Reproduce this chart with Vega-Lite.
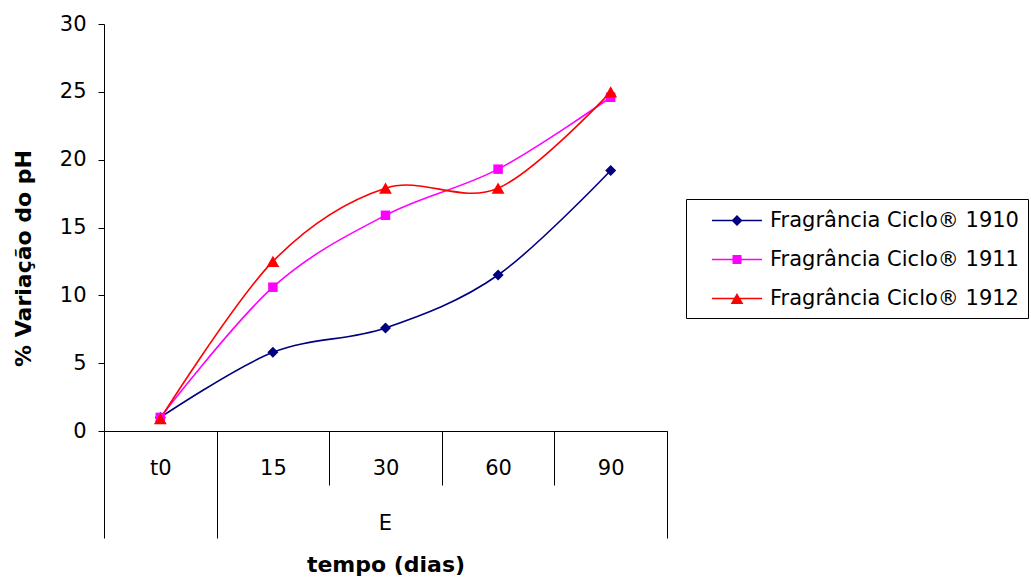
{
  "$schema": "https://vega.github.io/schema/vega-lite/v6.json",
  "width": 563,
  "height": 407,
  "autosize": {"type": "none"},
  "padding": {"left": 104, "top": 24, "right": 364, "bottom": 148},
  "background": "white",
  "config": {
    "view": {"stroke": null},
    "font": "DejaVu Sans",
    "axis": {
      "grid": false,
      "domainColor": "#000000",
      "tickColor": "#000000",
      "labelColor": "#000000",
      "titleColor": "#000000",
      "labelFont": "DejaVu Sans",
      "titleFont": "DejaVu Sans"
    },
    "legend": {"labelFont": "DejaVu Sans"}
  },
  "data": {
    "values": [
      {"serie": "Fragrância Ciclo® 1910", "t": "t0", "v": 1.0},
      {"serie": "Fragrância Ciclo® 1910", "t": "15", "v": 5.8},
      {"serie": "Fragrância Ciclo® 1910", "t": "30", "v": 7.6},
      {"serie": "Fragrância Ciclo® 1910", "t": "60", "v": 11.5},
      {"serie": "Fragrância Ciclo® 1910", "t": "90", "v": 19.2},
      {"serie": "Fragrância Ciclo® 1911", "t": "t0", "v": 1.0},
      {"serie": "Fragrância Ciclo® 1911", "t": "15", "v": 10.6},
      {"serie": "Fragrância Ciclo® 1911", "t": "30", "v": 15.9},
      {"serie": "Fragrância Ciclo® 1911", "t": "60", "v": 19.3},
      {"serie": "Fragrância Ciclo® 1911", "t": "90", "v": 24.6},
      {"serie": "Fragrância Ciclo® 1912", "t": "t0", "v": 0.9},
      {"serie": "Fragrância Ciclo® 1912", "t": "15", "v": 12.5},
      {"serie": "Fragrância Ciclo® 1912", "t": "30", "v": 17.9},
      {"serie": "Fragrância Ciclo® 1912", "t": "60", "v": 17.9},
      {"serie": "Fragrância Ciclo® 1912", "t": "90", "v": 25.0}
    ]
  },
  "encoding": {
    "y": {
      "field": "v",
      "type": "quantitative",
      "scale": {"domain": [0, 30], "nice": false, "zero": true},
      "axis": {
        "values": [0, 5, 10, 15, 20, 25, 30],
        "tickSize": 6,
        "labelPadding": 12,
        "labelFontSize": 21,
        "title": "% Variação do pH",
        "titleFontSize": 22,
        "titleFontWeight": "bold",
        "titlePadding": 24,
        "titleY": 234
      }
    },
    "color": {
      "field": "serie",
      "type": "nominal",
      "scale": {
        "domain": ["Fragrância Ciclo® 1910", "Fragrância Ciclo® 1911", "Fragrância Ciclo® 1912"],
        "range": ["#000080", "#FF00FF", "#FF0000"]
      },
      "legend": {
        "orient": "none",
        "legendX": 582,
        "legendY": 175,
        "title": null,
        "strokeColor": "#000000",
        "fillColor": "white",
        "padding": 9,
        "labelFontSize": 21,
        "labelColor": "#000000",
        "labelLimit": 400,
        "labelOffset": 8,
        "symbolOffset": 42,
        "symbolSize": 625,
        "symbolOpacity": 1,
        "symbolStrokeWidth": 0,
        "rowPadding": 16
      }
    }
  },
  "layer": [
    {
      "transform": [{"filter": {"field": "v", "lt": -100}}],
      "mark": {"type": "point", "filled": true, "opacity": 1},
      "encoding": {
        "x": {
          "field": "t",
          "type": "ordinal",
          "sort": ["t0", "15", "30", "60", "90"],
          "scale": {"type": "band", "paddingInner": 0, "paddingOuter": 0},
          "axis": {
            "orient": "bottom",
            "values": ["t0", "90"],
            "tickBand": "extent",
            "tickSize": 107,
            "labels": false,
            "domain": false,
            "title": "tempo (dias)",
            "titleFontSize": 22,
            "titleFontWeight": "bold",
            "titlePadding": 16
          }
        },
        "shape": {
          "field": "serie",
          "type": "nominal",
          "scale": {
            "domain": ["Fragrância Ciclo® 1910", "Fragrância Ciclo® 1911", "Fragrância Ciclo® 1912"],
            "range": [
              "M-3,-0.06L1,-0.06L1,0.06L-3,0.06Z M-1,-0.44L-0.56,0L-1,0.44L-1.44,0Z",
              "M-3,-0.06L1,-0.06L1,0.06L-3,0.06Z M-1.36,-0.36L-0.64,-0.36L-0.64,0.36L-1.36,0.36Z",
              "M-3,-0.06L1,-0.06L1,0.06L-3,0.06Z M-1,-0.44L-0.488,0.44L-1.512,0.44Z"
            ]
          }
        }
      }
    },
    {
      "mark": {"type": "line", "interpolate": "cardinal", "tension": 0, "strokeWidth": 1.6},
      "encoding": {
        "x": {
          "field": "t",
          "type": "ordinal",
          "sort": ["t0", "15", "30", "60", "90"],
          "axis": {
            "orient": "bottom",
            "tickBand": "extent",
            "tickSize": 54,
            "labelPadding": -28,
            "labelFontSize": 21,
            "labelAngle": 0,
            "domain": true,
            "title": null
          }
        }
      }
    },
    {
      "transform": [{"filter": {"field": "serie", "equal": "Fragrância Ciclo® 1910"}}],
      "mark": {"type": "point", "shape": "diamond", "filled": true, "size": 121, "opacity": 1},
      "encoding": {
        "x": {
          "field": "t",
          "type": "ordinal",
          "sort": ["t0", "15", "30", "60", "90"],
          "axis": {
            "orient": "bottom",
            "values": ["30"],
            "bandPosition": 1,
            "ticks": false,
            "tickSize": 0,
            "domain": false,
            "labelExpr": "'E'",
            "labelPadding": 81,
            "labelFontSize": 21,
            "labelAngle": 0,
            "title": null
          }
        }
      }
    },
    {
      "transform": [{"filter": {"field": "serie", "equal": "Fragrância Ciclo® 1911"}}],
      "mark": {"type": "point", "shape": "square", "filled": true, "size": 90, "opacity": 1},
      "encoding": {
        "x": {"field": "t", "type": "ordinal", "sort": ["t0", "15", "30", "60", "90"], "axis": null}
      }
    },
    {
      "transform": [{"filter": {"field": "serie", "equal": "Fragrância Ciclo® 1912"}}],
      "mark": {"type": "point", "shape": "triangle-up", "filled": true, "size": 164, "opacity": 1},
      "encoding": {
        "x": {"field": "t", "type": "ordinal", "sort": ["t0", "15", "30", "60", "90"], "axis": null}
      }
    }
  ],
  "resolve": {"axis": {"x": "independent"}}
}
